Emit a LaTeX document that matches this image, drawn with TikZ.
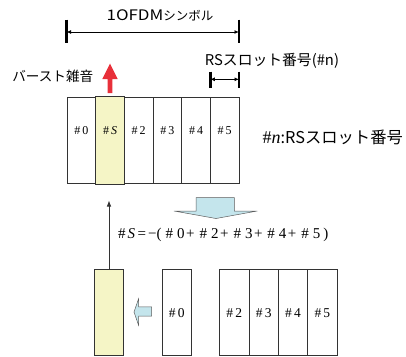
\documentclass[tikz,border=0pt]{standalone}
\usepackage{fontspec}
\setmainfont{Liberation Serif}
\newfontfamily\jp{Noto Sans CJK JP}
\usetikzlibrary{arrows.meta}
\definecolor{yel}{HTML}{F5F5C6}
\definecolor{cy}{HTML}{C4E5EC}
\definecolor{rd}{HTML}{E8303A}
\definecolor{bd}{HTML}{333333}
\begin{document}
\begin{tikzpicture}[x=1pt,y=-1pt,
  cell/.style={draw=bd, line width=0.7pt, minimum width=28.67pt, minimum height=86.6pt, anchor=north west, inner sep=0pt},
  bcell/.style={draw=bd, line width=0.7pt, minimum width=29.35pt, minimum height=86pt, anchor=north west, inner sep=0pt},
  lab/.style={font=\fontsize{12}{12}\selectfont, inner sep=0pt},
  blab/.style={font=\fontsize{13.5}{13.5}\selectfont, inner sep=0pt},
  jtext/.style={font=\jp\fontsize{14.8}{15}\selectfont, inner sep=0pt},
  tick/.style={line width=2.6pt, black},
  dim/.style={line width=0.9pt, {Latex[length=4.5pt,width=4pt]}-{Latex[length=4.5pt,width=4pt]}},
  blockarrow/.style={fill=cy, draw=bd!80, line width=0.5pt, line join=miter}
]
\useasboundingbox (0,0) rectangle (406,356);

% top row cells
\foreach \i in {0,...,5}{
  \node[cell] (t\i) at ({66.7+28.67*\i},96.7) {};
}
\fill[yel] (t1.north west) rectangle (t1.south east);
\draw[bd, line width=0.7pt] (t1.north west) rectangle (t1.south east);
\node[lab] (l0) at ([yshift=10pt]t0.center) {\#\,0};
\node[lab] (l1) at ([yshift=10pt]t1.center) {\#\,\textit{S}};
\node[lab] (l2) at ([yshift=10pt]t2.center) {\#\,2};
\node[lab] (l3) at ([yshift=10pt]t3.center) {\#\,3};
\node[lab] (l4) at ([yshift=10pt]t4.center) {\#\,4};
\node[lab] (l5) at ([yshift=10pt]t5.center) {\#\,5};

% dimension: 1 OFDM symbol
\coordinate (da) at (66.5,32);
\coordinate (db) at (239,32);
\draw[tick] (66.5,19.5) -- (66.5,42.5);
\draw[tick] (239,19.5) -- (239,42.5);
\draw[dim] (da) -- (db);
\node[inner sep=0pt] (ofdm) at (160,15) {\jp\fontsize{14.5}{15}\selectfont{\addfontfeatures{FakeStretch=1.17}1OFDM}{\fontsize{12.5}{15}\selectfont シンボル}};

% dimension: RS slot
\coordinate (ra) at (210.3,79.3);
\coordinate (rb) at (239,79.3);
\draw[tick] (210.3,71.5) -- (210.3,87.5);
\draw[tick] (239,71.5) -- (239,87.5);
\draw[dim] (ra) -- (rb);
\node[jtext] (rslab) at (272,60.5) {RSスロット番号(\#n)};

% burst noise
\node[jtext, font=\jp\fontsize{13.6}{15}\selectfont] (burst) at (52.8,76) {バースト雑音};
\fill[rd] (107.6,93) -- (107.6,79) -- (102.3,79) -- (110,63.5) -- (117.7,79) -- (112.4,79) -- (112.4,93) -- cycle;

% legend
\node[inner sep=0pt, anchor=west] (legend) at (262.5,137) {{\fontsize{18}{18}\selectfont \#\textit{n}}{\jp\fontsize{16.3}{16}\selectfont :RSスロット番号}};

% down block arrow
\draw[blockarrow] (196,197.7) -- (234.3,197.7) -- (234.3,211) -- (257.3,211) -- (216,218.5) -- (174,211) -- (196,211) -- cycle;

% formula
\node[inner sep=0pt, anchor=west, font=\fontsize{15}{15}\selectfont] (formula) at (118,235)
  {\#\kern2pt\textit{S}\kern2.5pt=\kern2pt−(\kern4pt\#\kern4pt0\kern1.5pt+\kern5pt\#\kern4pt2\kern1.5pt+\kern5pt\#\kern4pt3\kern1.5pt+\kern5pt\#\kern4pt4\kern1.5pt+\kern5pt\#\kern4pt5\kern3pt)};

% bottom row
\node[bcell, fill=yel, minimum width=29.3pt] (bs) at (94,269.3) {};
\node[bcell] (b0) at (161.7,269.3) {};
\node[blab] at (b0.center) {\#\,0};
\foreach \i/\n in {0/2,1/3,2/4,3/5}{
  \node[bcell] (b\n) at ({219.3+29.35*\i},269.3) {};
  \node[blab] at (b\n.center) {\#\,\n};
}

% left block arrow
\draw[blockarrow] (151.7,306.8) -- (138.5,306.8) -- (138.5,299) -- (134,312) -- (138.5,325) -- (138.5,316.2) -- (151.7,316.2) -- cycle;

% upward arrow from #S
\coordinate (up) at (bs.north |- 0,200.5);
\draw[line width=0.7pt, bd, -{Latex[length=6pt,width=4.5pt]}] (bs.north) -- (up);
\end{tikzpicture}
\end{document}
